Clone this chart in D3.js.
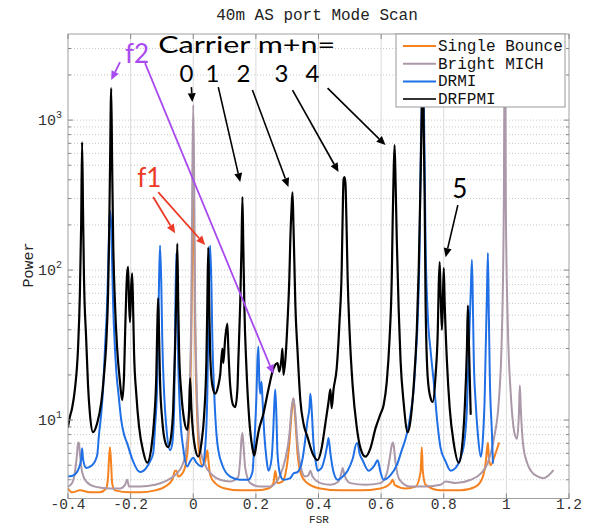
<!DOCTYPE html>
<html><head><meta charset="utf-8">
<script src="https://cdn.jsdelivr.net/npm/d3@7"></script>
<style>body{margin:0;background:#fff}svg{display:block}</style>
</head><body><svg id="c" width="594" height="526"></svg>
<script>
// ---------------- data ----------------
const title = "40m AS port Mode Scan";
const xLabel = "FSR";
const yLabel = "Power";
const xTicks = [-0.4,-0.2,0,0.2,0.4,0.6,0.8,1,1.2];
const xTickLabels = ["-0.4","-0.2","0","0.2","0.4","0.6","0.8","1","1.2"];
const yTicks = [10,100,1000];
const yTickExps = ["1","2","3"];
const seriesNames = ["Single Bounce","Bright MICH","DRMI","DRFPMI"];

const singleBounce = [[-0.400,3.5],[-0.387,3.3],[-0.362,3.4],[-0.330,3.3],[-0.298,3.3],[-0.278,3.5],[-0.272,4.2],[-0.269,5.5],[-0.266,6.6],[-0.262,5.0],[-0.259,3.8],[-0.250,3.4],[-0.202,3.3],[-0.170,3.3],[-0.122,3.4],[-0.090,3.6],[-0.067,4.0],[-0.058,4.6],[-0.054,4.6],[-0.048,4.2],[-0.032,4.5],[-0.019,6],[-0.013,10],[-0.006,40],[-0.003,150],[0,300],[0.003,150],[0.006,40],[0.013,10],[0.019,6],[0.029,5],[0.038,5.3],[0.045,6.3],[0.048,5.5],[0.054,4.3],[0.070,3.8],[0.102,3.5],[0.150,3.4],[0.198,3.4],[0.240,3.5],[0.256,3.8],[0.262,4.6],[0.269,3.8],[0.285,3.9],[0.298,4.8],[0.307,7],[0.314,11],[0.320,14],[0.326,10],[0.333,6],[0.342,4.5],[0.358,3.9],[0.406,3.5],[0.470,3.4],[0.534,3.4],[0.598,3.5],[0.630,3.8],[0.637,4.0],[0.643,3.7],[0.678,3.5],[0.710,3.6],[0.726,4.5],[0.730,6.6],[0.733,4.6],[0.742,3.7],[0.790,3.4],[0.854,3.4],[0.902,3.6],[0.925,4.2],[0.934,5.2],[0.941,7.1],[0.944,5.6],[0.950,5.0],[0.963,5.8],[0.976,7.0]];

const brightMICH = [[-0.400,3.6],[-0.387,3.8],[-0.378,4.5],[-0.371,6],[-0.368,7.1],[-0.365,7.0],[-0.362,6],[-0.355,4.5],[-0.342,3.9],[-0.314,3.6],[-0.266,3.5],[-0.234,3.5],[-0.218,3.7],[-0.211,4.0],[-0.205,3.6],[-0.170,3.6],[-0.122,3.7],[-0.090,3.9],[-0.058,4.3],[-0.035,5.0],[-0.022,6.5],[-0.016,9],[-0.010,20],[-0.006,60],[-0.003,400],[0,1260],[0.003,400],[0.006,60],[0.010,20],[0.016,9],[0.022,6.5],[0.038,5],[0.061,4.3],[0.086,4.0],[0.118,3.9],[0.144,4.2],[0.150,5.5],[0.154,7.5],[0.157,8.2],[0.160,7],[0.166,4.8],[0.182,3.8],[0.214,3.6],[0.246,3.6],[0.262,3.8],[0.278,4.3],[0.294,5.5],[0.307,8],[0.314,12],[0.320,14],[0.326,11],[0.333,7],[0.342,5.0],[0.358,4.2],[0.368,4.3],[0.374,4.6],[0.381,4.2],[0.406,3.8],[0.438,3.7],[0.464,3.9],[0.474,4.5],[0.477,4.8],[0.483,4.3],[0.502,3.8],[0.550,3.7],[0.598,3.8],[0.618,4.4],[0.627,5.5],[0.634,6.8],[0.637,7.1],[0.640,6.8],[0.646,5.2],[0.659,4.0],[0.694,3.6],[0.742,3.6],[0.790,3.7],[0.806,3.9],[0.838,3.8],[0.886,4.0],[0.918,4.4],[0.941,5.2],[0.960,7.5],[0.976,13.5],[0.986,40],[0.992,300],[0.995,6000],[0.998,300],[1.005,40],[1.014,15],[1.027,8],[1.034,7.5],[1.040,11],[1.043,17],[1.046,12],[1.053,7],[1.066,5.2],[1.078,4.6],[1.101,4.2],[1.120,4.1],[1.136,4.3],[1.149,4.6]];

const drmi = [[-0.400,4.2],[-0.381,4.3],[-0.365,4.8],[-0.358,5.5],[-0.355,6.5],[-0.352,5.5],[-0.342,4.8],[-0.323,5.0],[-0.307,5.8],[-0.301,8],[-0.294,11],[-0.288,16],[-0.282,30],[-0.275,60],[-0.272,100],[-0.269,180],[-0.266,250],[-0.262,200],[-0.259,110],[-0.256,60],[-0.250,30],[-0.243,18],[-0.240,15.8],[-0.230,10],[-0.221,8],[-0.211,7],[-0.195,5.5],[-0.170,4.5],[-0.150,4.8],[-0.138,5.3],[-0.128,6],[-0.122,9],[-0.115,18],[-0.112,40],[-0.109,90],[-0.106,146],[-0.102,80],[-0.099,35],[-0.093,15],[-0.086,9],[-0.074,6.3],[-0.067,7],[-0.061,12],[-0.058,40],[-0.054,130],[-0.051,60],[-0.048,25],[-0.042,11],[-0.032,6.5],[-0.019,4.9],[-0.010,5.3],[0,5.6],[0.010,5.2],[0.029,4.9],[0.038,6.5],[0.045,15],[0.048,40],[0.051,100],[0.054,146],[0.058,80],[0.061,35],[0.067,15],[0.077,7],[0.093,5],[0.118,4.2],[0.150,4.0],[0.176,4.0],[0.189,4.5],[0.195,7],[0.202,15],[0.205,25],[0.208,31],[0.211,18],[0.214,15],[0.218,18],[0.221,14],[0.227,8],[0.234,5.5],[0.240,4.6],[0.250,5.5],[0.256,9],[0.259,13],[0.262,16],[0.266,10],[0.269,6],[0.278,4.3],[0.288,4.0],[0.310,4.1],[0.320,4.4],[0.333,4.5],[0.349,5.5],[0.358,7.5],[0.365,10],[0.371,12],[0.374,15],[0.378,12],[0.384,7],[0.390,5.5],[0.397,4.6],[0.410,4.8],[0.419,5.5],[0.429,7],[0.432,7.6],[0.438,6],[0.448,4.5],[0.461,4.0],[0.477,4.2],[0.493,4.6],[0.509,5.5],[0.522,7],[0.525,7],[0.531,6],[0.541,5.4],[0.560,4.6],[0.579,5.0],[0.589,5.4],[0.598,4.5],[0.608,4.0],[0.630,4.3],[0.650,5.0],[0.666,6.3],[0.678,7.5],[0.685,8.6],[0.694,11],[0.704,16],[0.710,25],[0.717,48],[0.723,150],[0.726,500],[0.730,1500],[0.733,3000],[0.736,1500],[0.739,500],[0.742,150],[0.749,50],[0.758,29],[0.768,18],[0.781,9],[0.790,6.5],[0.806,5.3],[0.822,4.6],[0.838,4.8],[0.854,5.6],[0.867,7.5],[0.874,12],[0.880,30],[0.886,70],[0.890,117],[0.893,60],[0.896,25],[0.902,13],[0.909,8],[0.918,5.7],[0.925,7.5],[0.931,15],[0.934,30],[0.938,70],[0.941,130],[0.944,50],[0.947,20],[0.954,8],[0.957,5.2]];

const drfpmi = [[-0.400,9.0],[-0.394,10.5],[-0.387,12],[-0.378,16],[-0.368,30],[-0.362,70],[-0.358,200],[-0.355,713],[-0.352,250],[-0.349,90],[-0.342,35],[-0.336,17],[-0.330,11],[-0.320,8.3],[-0.307,9.5],[-0.294,13],[-0.285,20],[-0.278,32],[-0.272,70],[-0.269,150],[-0.266,450],[-0.262,1634],[-0.259,500],[-0.256,170],[-0.250,60],[-0.243,30],[-0.234,18],[-0.227,13.6],[-0.221,20],[-0.218,35],[-0.214,70],[-0.211,95],[-0.208,105],[-0.205,60],[-0.202,45],[-0.198,80],[-0.195,95],[-0.192,55],[-0.189,28],[-0.182,15],[-0.173,9],[-0.160,6.2],[-0.147,5.2],[-0.134,6.5],[-0.125,10],[-0.118,20],[-0.115,40],[-0.112,65],[-0.109,35],[-0.106,18],[-0.099,10],[-0.090,7.2],[-0.080,6.6],[-0.070,8],[-0.064,12],[-0.058,30],[-0.054,70],[-0.051,150],[-0.048,60],[-0.045,28],[-0.038,15],[-0.029,10],[-0.019,8.6],[-0.013,12],[-0.010,19],[-0.006,12],[0,8],[0.006,6.5],[0.016,5.7],[0.026,7],[0.035,11],[0.042,25],[0.045,60],[0.048,142],[0.051,60],[0.054,28],[0.061,17],[0.070,15],[0.080,17],[0.086,20],[0.093,30],[0.096,24],[0.102,35],[0.109,44],[0.112,30],[0.118,17],[0.128,12.5],[0.134,12.2],[0.141,16],[0.144,25],[0.150,60],[0.154,140],[0.157,307],[0.160,140],[0.163,60],[0.170,22],[0.179,10],[0.189,6.5],[0.195,5.8],[0.202,7],[0.208,8.3],[0.224,11],[0.240,16],[0.256,22],[0.269,24],[0.275,21],[0.282,26],[0.285,30],[0.288,20],[0.294,25],[0.301,45],[0.307,90],[0.310,160],[0.314,260],[0.317,330],[0.320,200],[0.323,110],[0.326,60],[0.333,29],[0.342,13.6],[0.352,9.5],[0.365,7.7],[0.381,6],[0.397,5.4],[0.410,6.5],[0.422,9.5],[0.432,13.2],[0.438,16],[0.442,12],[0.448,16],[0.458,22],[0.467,45],[0.474,100],[0.477,220],[0.480,400],[0.483,417],[0.486,380],[0.490,180],[0.493,90],[0.499,40],[0.509,17],[0.522,9],[0.534,6.5],[0.550,5.7],[0.566,6.5],[0.582,8.8],[0.598,11],[0.608,12.6],[0.618,18],[0.627,35],[0.634,90],[0.637,220],[0.640,450],[0.643,680],[0.646,400],[0.650,160],[0.656,55],[0.662,25],[0.672,13],[0.685,8.3],[0.694,10],[0.704,17],[0.714,40],[0.720,100],[0.726,400],[0.730,1200],[0.733,2000],[0.736,900],[0.739,300],[0.742,60],[0.749,19],[0.758,14],[0.765,13.2],[0.774,20],[0.781,40],[0.784,80],[0.787,113],[0.790,70],[0.794,40],[0.797,60],[0.800,103],[0.803,60],[0.810,25],[0.819,12],[0.832,7],[0.848,5.2],[0.858,6.5],[0.867,12],[0.874,30],[0.877,58],[0.880,35],[0.886,11]];

// annotations (data coordinates: [FSR, Power])
const blackArrows = [[[-0.006,1660],[-0.003,1318]],[[0.080,1660],[0.150,386]],[[0.189,1585],[0.304,358]],[[0.317,1585],[0.464,450]],[[0.429,1634],[0.614,681]],[[0.845,271],[0.806,122]]];
const redArrows = [[[-0.128,307],[-0.058,176]],[[-0.112,331],[0.038,147]]];
const purpleArrows = [[[-0.234,2438],[-0.262,1848]],[[-0.154,2399],[0.256,20.3]]];
const modeDigits = ["0","1","2","3","4"];
const modeDigitX = [-0.022,0.061,0.160,0.282,0.381];

// ---------------- chart ----------------
const svg = d3.select("#c");
const x = d3.scaleLinear().domain([-0.4,1.2]).range([68,569]);
const y = d3.scaleLog().domain([3,3750]).range([498.5,34]);
const X0=x.range()[0], X1=x.range()[1], Y0=y.range()[1], Y1=y.range()[0];
const mono = "'Liberation Mono','DejaVu Sans Mono',monospace";
const sans = "Lato,'Open Sans',sans-serif";

svg.append("rect").attr("width",594).attr("height",526).attr("fill","#fff");

// grid
const minor=[];
for(let e=0;e<=3;e++) for(let k=1;k<=9;k++){const v=k*Math.pow(10,e); if(v>=3&&v<=3750) minor.push(v);}
svg.append("g").selectAll("line").data(minor).join("line")
  .attr("x1",X0).attr("x2",X1).attr("y1",d=>y(d)).attr("y2",d=>y(d))
  .attr("stroke","#c8c8c8").attr("stroke-width",1).attr("stroke-dasharray","1,2");
svg.append("g").selectAll("line").data(xTicks.slice(1,-1)).join("line")
  .attr("x1",d=>x(d)).attr("x2",d=>x(d)).attr("y1",Y0).attr("y2",Y1)
  .attr("stroke","#dadada").attr("stroke-width",1);

// series
const defs = svg.append("defs");
defs.append("clipPath").attr("id","clip").append("rect")
  .attr("x",X0).attr("y",Y0).attr("width",X1-X0).attr("height",Y1-Y0);
const line = d3.line().x(d=>x(d[0])).y(d=>y(d[1])).curve(d3.curveMonotoneX);
const series = [
  {name:seriesNames[0],data:singleBounce,color:"#f5821f",w:2},
  {name:seriesNames[1],data:brightMICH,color:"#ab98a8",w:2},
  {name:seriesNames[2],data:drmi,color:"#1f6fe6",w:2},
  {name:seriesNames[3],data:drfpmi,color:"#000000",w:2.2}
];
const gS = svg.append("g").attr("clip-path","url(#clip)");
series.forEach(s=>{
  gS.append("path").attr("d",line(s.data)).attr("fill","none")
    .attr("stroke",s.color).attr("stroke-width",s.w)
    .attr("stroke-linejoin","round").attr("stroke-linecap","round");
});

// frame and ticks
svg.append("rect").attr("x",X0).attr("y",Y0).attr("width",X1-X0).attr("height",Y1-Y0)
  .attr("fill","none").attr("stroke","#a0a0a0").attr("stroke-width",1);
const gT = svg.append("g").attr("stroke","#888").attr("stroke-width",1);
xTicks.forEach(t=>{
  gT.append("line").attr("x1",x(t)).attr("x2",x(t)).attr("y1",Y1).attr("y2",Y1-5);
  gT.append("line").attr("x1",x(t)).attr("x2",x(t)).attr("y1",Y0).attr("y2",Y0+5);
});
minor.forEach(v=>{
  const L = yTicks.includes(v)?5:3;
  gT.append("line").attr("x1",X0).attr("x2",X0+L).attr("y1",y(v)).attr("y2",y(v));
  gT.append("line").attr("x1",X1).attr("x2",X1-L).attr("y1",y(v)).attr("y2",y(v));
});

// tick labels
svg.append("g").selectAll("text").data(xTicks).join("text")
  .attr("x",d=>x(d)).attr("y",509).attr("text-anchor","middle")
  .attr("font-family",mono).attr("font-size",14.5).attr("fill","#333")
  .text((d,i)=>xTickLabels[i]);
yTicks.forEach((t,i)=>{
  const tx = svg.append("text").attr("x",62).attr("y",y(t)+5).attr("text-anchor","end")
    .attr("font-family",mono).attr("font-size",15).attr("fill","#333");
  tx.append("tspan").text("10");
  tx.append("tspan").attr("dy",-7).attr("font-size",10).text(yTickExps[i]);
});
svg.append("text").attr("x",317).attr("y",20).attr("text-anchor","middle")
  .attr("font-family",mono).attr("font-size",16).attr("fill","#222").text(title);
svg.append("text").attr("x",319).attr("y",522.5).attr("text-anchor","middle")
  .attr("font-family",mono).attr("font-size",11).attr("fill","#222").text(xLabel);
svg.append("text").attr("transform","translate(33,265) rotate(-90)").attr("text-anchor","middle")
  .attr("font-family",mono).attr("font-size",15).attr("fill","#222").text(yLabel);

// legend
const lg = svg.append("g");
lg.append("rect").attr("x",396).attr("y",Y0).attr("width",169).attr("height",73)
  .attr("fill","#fff").attr("stroke","#999").attr("stroke-width",1);
series.forEach((s,i)=>{
  const ly = 46 + i*17.7;
  lg.append("line").attr("x1",403).attr("x2",436).attr("y1",ly).attr("y2",ly)
    .attr("stroke",s.color==="#000000"?"#333":s.color).attr("stroke-width",2);
  lg.append("text").attr("x",438).attr("y",ly+5).attr("font-family",mono)
    .attr("font-size",16).attr("fill","#111").text(s.name);
});

// annotations
function arrow(p,color,w){
  const x1=x(p[0][0]),y1=y(p[0][1]),x2=x(p[1][0]),y2=y(p[1][1]);
  const a=Math.atan2(y2-y1,x2-x1), L=9, hw=4;
  const bx=x2-L*Math.cos(a), by=y2-L*Math.sin(a);
  svg.append("line").attr("x1",x1).attr("y1",y1).attr("x2",bx).attr("y2",by)
    .attr("stroke",color).attr("stroke-width",w);
  svg.append("path").attr("d",`M${x2},${y2}L${bx+hw*Math.sin(a)},${by-hw*Math.cos(a)}L${bx-hw*Math.sin(a)},${by+hw*Math.cos(a)}Z`)
    .attr("fill",color);
}
blackArrows.forEach(p=>arrow(p,"#000",1.6));
redArrows.forEach(p=>arrow(p,"#ec3a26",1.8));
purpleArrows.forEach(p=>arrow(p,"#a94af0",1.8));

svg.append("text").attr("x",x(-0.112)).attr("y",y(2797)).attr("font-family",sans)
  .attr("font-size",24).attr("fill","#000").attr("textLength",177).attr("lengthAdjust","spacingAndGlyphs")
  .text("Carrier m+n=");
modeDigits.forEach((d,i)=>{
  svg.append("text").attr("x",x(modeDigitX[i])).attr("y",y(1791)).attr("text-anchor","middle")
    .attr("font-family",sans).attr("font-size",24).attr("fill","#000").text(d);
});
svg.append("text").attr("x",x(0.851)).attr("y",y(302)).attr("text-anchor","middle")
  .attr("font-family",sans).attr("font-size",26).attr("fill","#000").text("5");
svg.append("text").attr("x",x(-0.218)).attr("y",y(2399)).attr("font-family",sans)
  .attr("font-size",26).attr("fill","#a94af0").text("f2");
svg.append("text").attr("x",x(-0.179)).attr("y",y(358)).attr("font-family",sans)
  .attr("font-size",26).attr("fill","#ec3a26").text("f1");
</script></body></html>
